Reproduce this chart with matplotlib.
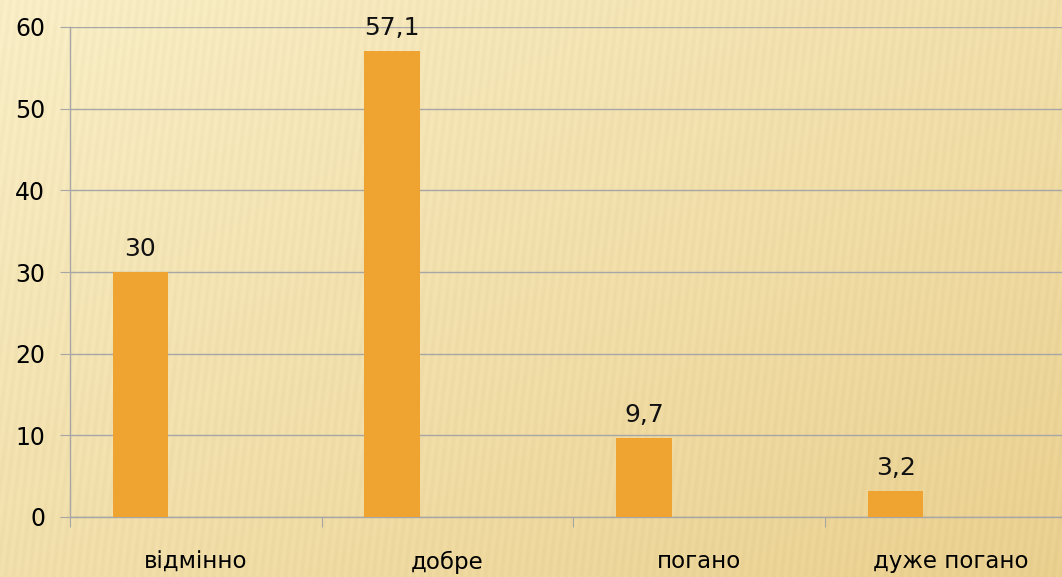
import numpy as np
import matplotlib.pyplot as plt

categories = ["відмінно", "добре", "погано", "дуже погано"]
values = [30, 57.1, 9.7, 3.2]
value_labels = ["30", "57,1", "9,7", "3,2"]
y_ticks = [0, 10, 20, 30, 40, 50, 60]

fig = plt.figure(figsize=(10.62, 5.77), dpi=100)

# background texture: warm gradient with soft stripes
bg = fig.add_axes([0, 0, 1, 1], zorder=-10)
h, w = 577, 1062
yy, xx = np.mgrid[0:h, 0:w]
grad = 0.5 * (xx / w) + 0.5 * (yy / h)
stripes = 0.5 + 0.5 * np.sin((xx + 0.12 * yy) * 2 * np.pi / 8.0)
light = np.array([251, 240, 200]) / 255
dark = np.array([236, 210, 145]) / 255
base = light[None, None, :] * (1 - grad[..., None]) + dark[None, None, :] * grad[..., None]
img = base - 0.02 * stripes[..., None]
bg.imshow(np.clip(img, 0, 1), aspect="auto", extent=[0, 1, 0, 1])
bg.axis("off")

ax = fig.add_axes([70 / 1062, 1 - 517 / 577, 1 - 70 / 1062, (517 - 27) / 577])
ax.patch.set_alpha(0)

x = np.arange(len(categories))
offset = -0.22
bars = ax.bar(x + offset, values, width=0.22, color="#EFA330", zorder=3)
for b, lab in zip(bars, value_labels):
    ax.text(b.get_x() + b.get_width() / 2, b.get_height() + 1.3, lab,
            ha="center", va="bottom", fontsize=18, color="#111111")

ax.set_xlim(-0.5, -0.5 + (1062 - 70) / 251.7)
ax.set_ylim(0, 60)
ax.set_yticks(y_ticks)
ax.set_yticklabels([str(t) for t in y_ticks], fontsize=17)
ax.yaxis.grid(True, color="#A6A6A6", linewidth=1.0, zorder=1)
ax.set_axisbelow(True)

ax.set_xticks(x - 0.5)
ax.set_xticklabels([])
ax.set_xticks(x, minor=True)
ax.set_xticklabels(categories, minor=True, fontsize=16.5)
ax.tick_params(axis="x", which="minor", length=0, pad=24)
ax.tick_params(axis="x", which="major", length=7, color="#A6A6A6", direction="out")
ax.tick_params(axis="y", length=7, color="#A6A6A6", pad=11)

for s in ["top", "right"]:
    ax.spines[s].set_visible(False)
for s in ["left", "bottom"]:
    ax.spines[s].set_color("#A6A6A6")
    ax.spines[s].set_linewidth(1.0)

fig.savefig("out.png", dpi=100)
